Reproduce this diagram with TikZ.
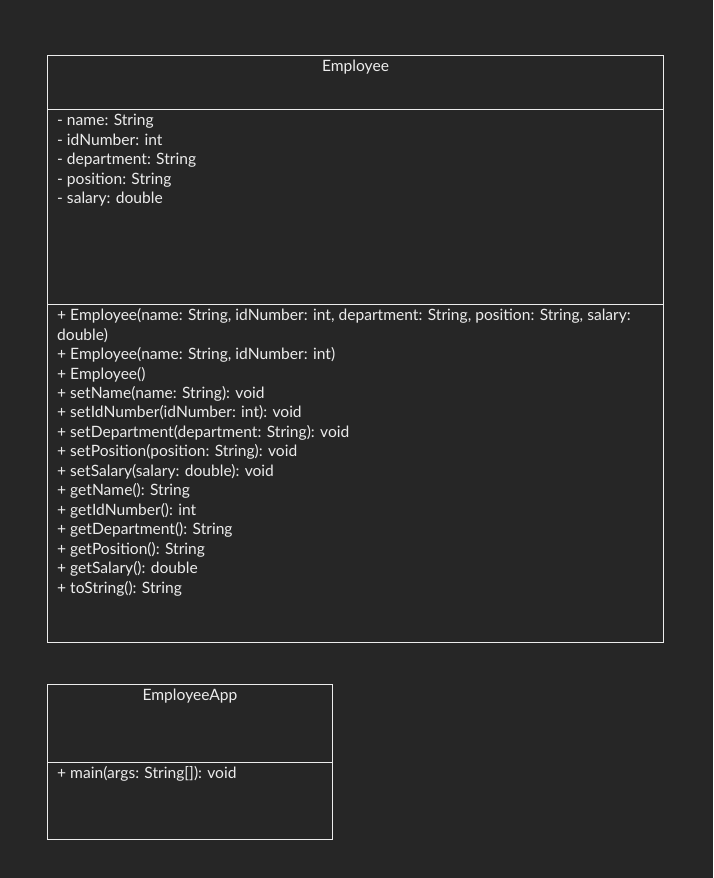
\documentclass[tikz,border=0pt]{standalone}
\usepackage{fontspec}
\setmainfont{Lato}
\usetikzlibrary{positioning}
\definecolor{bgdark}{RGB}{38,38,38}
\definecolor{ink}{RGB}{236,236,236}

\begin{document}
\begin{tikzpicture}[x=1pt,y=-1pt,
  classline/.style={draw=ink,line width=0.9pt},
  member/.style={anchor=base west,align=left,inner sep=0pt,text=ink,
    font=\fontsize{15.6}{19.46}\selectfont},
  classname/.style={anchor=base,inner sep=0pt,text=ink,
    font=\fontsize{15.6}{19.46}\selectfont}]

% Hintergrund
\fill[bgdark] (0,0) rectangle (713,878);
\useasboundingbox (0,0) rectangle (713,878);

% Klasse Employee
\draw[classline] (47.5,55.5) rectangle (663.5,642.5);
\draw[classline] (47.5,109.5)--(663.5,109.5);
\draw[classline] (47.5,304.5)--(663.5,304.5);
\node[classname] (empname) at (355.5,71.7) {Employee};

% Attribute (Anker: Grundlinie der letzten Zeile)
\node[member] (empattr) at (57,203.5) {- name: String\\
- idNumber: int\\
- department: String\\
- position: String\\
- salary: double};

% Methoden
\node[member] (empops) at (57,593.1) {+ Employee(name: String, idNumber: int, department: String, position: String, salary:\\
double)\\
+ Employee(name: String, idNumber: int)\\
+ Employee()\\
+ setName(name: String): void\\
+ setIdNumber(idNumber: int): void\\
+ setDepartment(department: String): void\\
+ setPosition(position: String): void\\
+ setSalary(salary: double): void\\
+ getName(): String\\
+ getIdNumber(): int\\
+ getDepartment(): String\\
+ getPosition(): String\\
+ getSalary(): double\\
+ toString(): String};

% Klasse EmployeeApp
\draw[classline] (47.5,684.5) rectangle (332.5,839.5);
\draw[classline] (47.5,762.5)--(332.5,762.5);
\node[classname] (appname) at (190,700.7) {EmployeeApp};
\node[member] (appops) at (57,778.7) {+ main(args: String[]): void};

\end{tikzpicture}
\end{document}
